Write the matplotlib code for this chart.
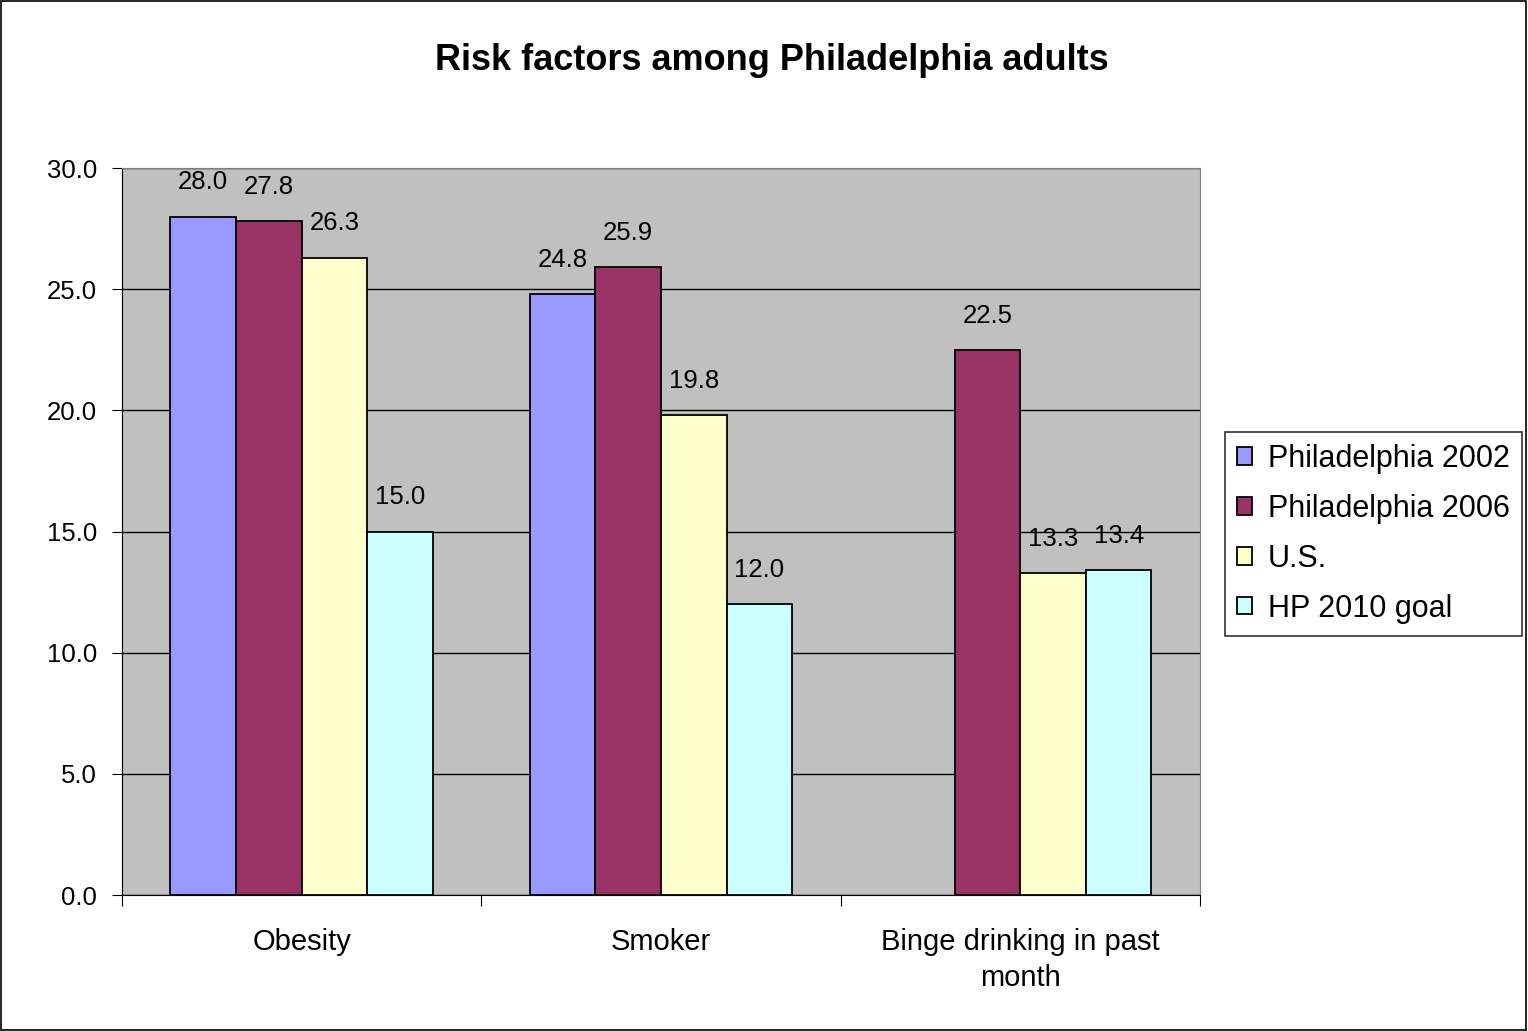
import numpy as np
import matplotlib
matplotlib.use("Agg")
import matplotlib.pyplot as plt
from matplotlib.patches import Rectangle

plt.rcParams['font.family'] = ['Liberation Sans', 'DejaVu Sans']

categories = ["Obesity", "Smoker", "Binge drinking in past\nmonth"]
series_names = ["Philadelphia 2002", "Philadelphia 2006", "U.S.", "HP 2010 goal"]
phila_2002 = [28.0, 24.8, np.nan]
phila_2006 = [27.8, 25.9, 22.5]
us = [26.3, 19.8, 13.3]
hp_2010 = [15.0, 12.0, 13.4]
yticks = [0, 5, 10, 15, 20, 25, 30]

colors = ["#9999FF", "#993366", "#FFFFCC", "#CCFFFF"]
all_series = [phila_2002, phila_2006, us, hp_2010]

fig = plt.figure(figsize=(15.28, 10.31), dpi=100)
fig.patches.append(Rectangle((0.0008, 0.001), 0.998, 0.998, transform=fig.transFigure,
                             fill=False, edgecolor="black", linewidth=1.2))
ax = fig.add_axes([0.0798, 0.1319, 0.7055, 0.7051])
ax.set_facecolor("#C0C0C0")

x = np.arange(len(categories))
bw = 0.1825
for i, (vals, col, name) in enumerate(zip(all_series, colors, series_names)):
    pos = x + (i - 1.5) * bw
    ax.bar(pos, vals, width=bw, color=col, edgecolor="black", linewidth=1.3,
           label=name, zorder=3)
    for p, v in zip(pos, vals):
        if not np.isnan(v):
            ax.annotate(f"{v:.1f}", (p, v), xytext=(0, 16), textcoords="offset points",
                        ha="center", va="bottom", fontsize=18.5)

ax.set_xlim(-0.5, len(categories) - 0.5)
ax.set_ylim(0, 30)
ax.set_yticks(yticks)
ax.set_yticklabels([f"{t:.1f}" for t in yticks], fontsize=18.5)
ax.yaxis.grid(True, color="black", linewidth=1)
ax.set_axisbelow(True)
ax.tick_params(axis="y", direction="out", length=7, pad=11)

# category boundaries carry the ticks, labels sit at the centres
ax.set_xticks(np.arange(-0.5, len(categories)))
ax.set_xticklabels([])
ax.tick_params(axis="x", direction="out", length=8)
ax.set_xticks(x, minor=True)
ax.set_xticklabels(categories, minor=True, fontsize=21, linespacing=1.35)
ax.tick_params(axis="x", which="minor", length=0, pad=24)

for side in ["left", "bottom"]:
    ax.spines[side].set_color("black")
for side in ["top", "right"]:
    ax.spines[side].set_color("#808080")

fig.text(0.505, 0.941, "Risk factors among Philadelphia adults", fontsize=26,
         fontweight="bold", ha="center", va="center")

leg = ax.legend(loc="center left", bbox_to_anchor=(1.023, 0.497), fontsize=22,
                frameon=True, fancybox=False, edgecolor="black", handlelength=0.5,
                handleheight=0.5, handletextpad=0.5, borderpad=0.4, borderaxespad=0,
                labelspacing=0.65)
leg.get_frame().set_linewidth(1.2)

fig.savefig("out.png", dpi=100)
